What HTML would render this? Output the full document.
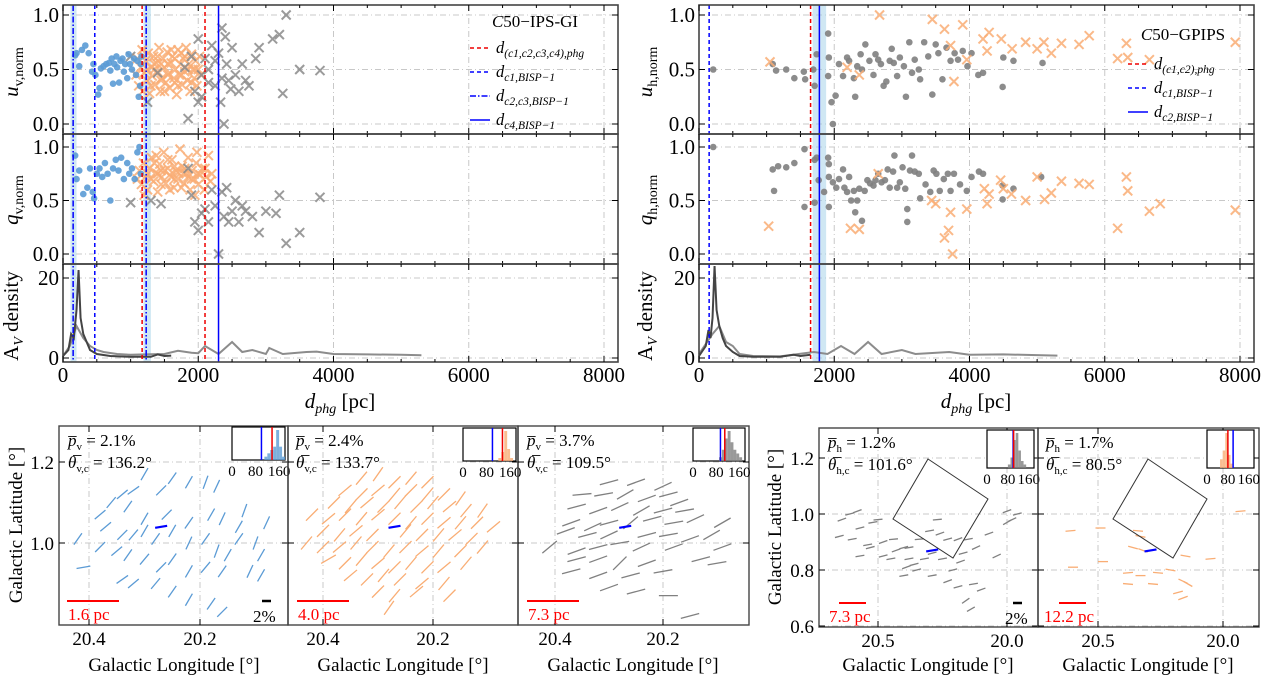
<!DOCTYPE html>
<html><head><meta charset="utf-8"><style>
html,body{margin:0;padding:0;background:#fff;}
svg{display:block;font-family:"Liberation Serif",serif;}
</style></head><body>
<svg id="fig" width="1265" height="677" viewBox="0 0 1265 677" xmlns="http://www.w3.org/2000/svg">
<g id="layer"></g>
<text transform="translate(18,72) rotate(-90)" text-anchor="middle" font-size="21" font-style="italic">u<tspan font-size="14" font-style="normal" dy="5">v,norm</tspan></text>
<text transform="translate(18,200) rotate(-90)" text-anchor="middle" font-size="21" font-style="italic">q<tspan font-size="14" font-style="normal" dy="5">v,norm</tspan></text>
<text transform="translate(18,316) rotate(-90)" text-anchor="middle" font-size="21">A<tspan font-size="14" font-style="italic" dy="5">V</tspan><tspan dy="-5"> density</tspan></text>
<text x="340" y="408" text-anchor="middle" font-size="21"><tspan font-style="italic">d</tspan><tspan font-size="14" font-style="italic" dy="5">phg</tspan><tspan dy="-5"> [pc]</tspan></text>
<text transform="translate(652,72) rotate(-90)" text-anchor="middle" font-size="21" font-style="italic">u<tspan font-size="14" font-style="normal" dy="5">h,norm</tspan></text>
<text transform="translate(652,200) rotate(-90)" text-anchor="middle" font-size="21" font-style="italic">q<tspan font-size="14" font-style="normal" dy="5">h,norm</tspan></text>
<text transform="translate(652,316) rotate(-90)" text-anchor="middle" font-size="21">A<tspan font-size="14" font-style="italic" dy="5">V</tspan><tspan dy="-5"> density</tspan></text>
<text x="976" y="408" text-anchor="middle" font-size="21"><tspan font-style="italic">d</tspan><tspan font-size="14" font-style="italic" dy="5">phg</tspan><tspan dy="-5"> [pc]</tspan></text>
<g font-size="16.5">
<text x="535" y="27" text-anchor="middle" font-size="17"><tspan font-style="italic">C</tspan>50−IPS-GI</text>
<line x1="470" y1="48" x2="490" y2="48" stroke="#e00" stroke-width="1.5" stroke-dasharray="4,3"/>
<text x="496" y="53" font-style="italic">d<tspan font-size="11.5" dy="4">(c1,c2,c3,c4),phg</tspan></text>
<line x1="470" y1="72" x2="490" y2="72" stroke="#00f" stroke-width="1.5" stroke-dasharray="4,3"/>
<text x="496" y="77" font-style="italic">d<tspan font-size="11.5" dy="4">c1,BISP−1</tspan></text>
<line x1="470" y1="96" x2="490" y2="96" stroke="#00f" stroke-width="1.5" stroke-dasharray="6,2,1.5,2"/>
<text x="496" y="101" font-style="italic">d<tspan font-size="11.5" dy="4">c2,c3,BISP−1</tspan></text>
<line x1="470" y1="120" x2="490" y2="120" stroke="#00f" stroke-width="1.5"/>
<text x="496" y="125" font-style="italic">d<tspan font-size="11.5" dy="4">c4,BISP−1</tspan></text>
</g>
<g font-size="16.5">
<text x="1183" y="40" text-anchor="middle" font-size="17"><tspan font-style="italic">C</tspan>50−GPIPS</text>
<line x1="1128" y1="64" x2="1148" y2="64" stroke="#e00" stroke-width="1.5" stroke-dasharray="4,3"/>
<text x="1154" y="69" font-style="italic">d<tspan font-size="11.5" dy="4">(c1,c2),phg</tspan></text>
<line x1="1128" y1="88" x2="1148" y2="88" stroke="#00f" stroke-width="1.5" stroke-dasharray="4,3"/>
<text x="1154" y="93" font-style="italic">d<tspan font-size="11.5" dy="4">c1,BISP−1</tspan></text>
<line x1="1128" y1="112" x2="1148" y2="112" stroke="#00f" stroke-width="1.5"/>
<text x="1154" y="117" font-style="italic">d<tspan font-size="11.5" dy="4">c2,BISP−1</tspan></text>
</g>
<text transform="translate(22,525) rotate(-90)" text-anchor="middle" font-size="19">Galactic Latitude [°]</text>
<text transform="translate(781,527) rotate(-90)" text-anchor="middle" font-size="19">Galactic Latitude [°]</text>
<text x="174" y="671" text-anchor="middle" font-size="19">Galactic Longitude [°]</text>
<text x="403" y="671" text-anchor="middle" font-size="19">Galactic Longitude [°]</text>
<text x="633" y="671" text-anchor="middle" font-size="19">Galactic Longitude [°]</text>
<text x="928" y="671" text-anchor="middle" font-size="19">Galactic Longitude [°]</text>
<text x="1148" y="671" text-anchor="middle" font-size="19">Galactic Longitude [°]</text>
<g font-size="17">
<text x="68" y="446"><tspan font-style="italic">p̅</tspan><tspan font-size="11" dy="4">v</tspan><tspan dy="-4"> = 2.1%</tspan></text>
<text x="68" y="468"><tspan font-style="italic">θ̅</tspan><tspan font-size="11" dy="4">v,c</tspan><tspan dy="-4"> = 136.2°</tspan></text>
<text x="296" y="446"><tspan font-style="italic">p̅</tspan><tspan font-size="11" dy="4">v</tspan><tspan dy="-4"> = 2.4%</tspan></text>
<text x="296" y="468"><tspan font-style="italic">θ̅</tspan><tspan font-size="11" dy="4">v,c</tspan><tspan dy="-4"> = 133.7°</tspan></text>
<text x="527" y="446"><tspan font-style="italic">p̅</tspan><tspan font-size="11" dy="4">v</tspan><tspan dy="-4"> = 3.7%</tspan></text>
<text x="527" y="468"><tspan font-style="italic">θ̅</tspan><tspan font-size="11" dy="4">v,c</tspan><tspan dy="-4"> = 109.5°</tspan></text>
<text x="828" y="448"><tspan font-style="italic">p̅</tspan><tspan font-size="11" dy="4">h</tspan><tspan dy="-4"> = 1.2%</tspan></text>
<text x="828" y="470"><tspan font-style="italic">θ̅</tspan><tspan font-size="11" dy="4">h,c</tspan><tspan dy="-4"> = 101.6°</tspan></text>
<text x="1046" y="448"><tspan font-style="italic">p̅</tspan><tspan font-size="11" dy="4">h</tspan><tspan dy="-4"> = 1.7%</tspan></text>
<text x="1046" y="470"><tspan font-style="italic">θ̅</tspan><tspan font-size="11" dy="4">h,c</tspan><tspan dy="-4"> = 80.5°</tspan></text>
</g>
<g font-size="17" fill="#f00">
<line x1="67" y1="601" x2="119" y2="601" stroke="#f00" stroke-width="2"/>
<text x="68" y="620">1.6 pc</text>
<line x1="297" y1="601" x2="349" y2="601" stroke="#f00" stroke-width="2"/>
<text x="298" y="620">4.0 pc</text>
<line x1="527" y1="601" x2="579" y2="601" stroke="#f00" stroke-width="2"/>
<text x="528" y="620">7.3 pc</text>
<line x1="839" y1="603" x2="866" y2="603" stroke="#f00" stroke-width="2"/>
<text x="829" y="622">7.3 pc</text>
<line x1="1059" y1="603" x2="1086" y2="603" stroke="#f00" stroke-width="2"/>
<text x="1044" y="622">12.2 pc</text>
</g>
<g font-size="17">
<line x1="262" y1="601" x2="271" y2="601" stroke="#000" stroke-width="2.5"/>
<text x="253" y="622">2%</text>
<line x1="1013" y1="603" x2="1022" y2="603" stroke="#000" stroke-width="2.5"/>
<text x="1005" y="624">2%</text>
</g>
<polygon points="928,459 988,499 953,558 893,519" fill="none" stroke="#333" stroke-width="1"/>
<polygon points="1148,459 1207,499 1173,558 1113,519" fill="none" stroke="#333" stroke-width="1"/>
</svg>
<script>
const uvBlue=[[180,.63],[200,.65],[240,.53],[280,.68],[330,.72],[380,.65],[430,.48],[450,.55],[480,.45],[520,.27],[540,.33],[560,.51],[600,.53],[640,.55],[680,.56],[700,.49],[720,.6],[740,.37],[760,.55],[790,.62],[800,.52],[830,.38],[850,.58],[880,.6],[900,.48],[920,.55],[950,.42],[970,.64],[990,.55],[1020,.5],[1050,.6],[1080,.45],[1100,.58],[1120,.25],[1140,.35],[1150,.55],[1160,.62]];
const uvOrange=[[1080,.45],[1100,.6],[1120,.35],[1150,.52],[1170,.68],[1180,.3],[1200,.47],[1220,.58],[1240,.4],[1260,.65],[1280,.28],[1300,.52],[1320,.44],[1340,.62],[1360,.36],[1380,.56],[1400,.48],[1420,.7],[1440,.3],[1460,.42],[1480,.6],[1500,.52],[1520,.38],[1540,.66],[1560,.46],[1580,.33],[1600,.56],[1620,.62],[1640,.42],[1660,.5],[1680,.27],[1700,.68],[1720,.45],[1740,.55],[1760,.36],[1780,.6],[1800,.48],[1820,.7],[1840,.4],[1860,.55],[1880,.3],[1900,.64],[1920,.5],[1940,.42],[1960,.58],[1980,.35],[2000,.5],[2020,.62],[2040,.45],[1250,.5],[1350,.5],[1450,.55],[1550,.55],[1650,.6],[1750,.45],[1850,.5],[1950,.5],[1300,.35],[1500,.3],[1700,.35],[1900,.38],[1400,.62],[1600,.68],[1800,.62],[1200,.62],[1550,.45],[1650,.38],[1450,.4],[1750,.65],[1350,.55]];
const uvGray=[[1000,.62],[1250,.2],[1400,.47],[1800,.52],[1850,.05],[1900,.62],[1950,.3],[2000,.78],[2050,.45],[2100,.6],[2150,.5],[2200,.72],[2250,.35],[2300,.65],[2330,.2],[2350,.88],[2380,0],[2400,.8],[2420,.55],[2450,.4],[2480,.32],[2500,.7],[2550,.45],[2600,.3],[2650,.55],[2700,.4],[2750,.35],[2850,.6],[2900,.7],[3100,.78],[3200,.82],[3250,.28],[3300,1],[3500,.5],[3800,.49],[2000,.2],[2050,.25],[2150,.38],[2250,.58],[2350,.42]];
const qvBlue=[[180,.92],[200,.7],[240,.78],[300,.56],[360,.62],[400,.8],[440,.58],[460,.52],[500,.75],[540,.8],[580,.72],[620,.85],[660,.75],[700,.5],[740,.8],[780,.88],[820,.78],[860,.9],[900,.7],[950,.85],[980,.75],[1020,.8],[1060,.7],[1100,.95],[1130,1],[1150,.75]];
const qvOrange=[[1100,.7],[1130,.78],[1160,.65],[1190,.85],[1220,.72],[1250,.6],[1280,.8],[1310,.9],[1340,.68],[1370,.76],[1400,.58],[1430,.84],[1460,.72],[1490,.95],[1520,.66],[1550,.8],[1580,.74],[1610,.88],[1640,.62],[1670,.78],[1700,.7],[1730,.98],[1760,.82],[1790,.66],[1820,.75],[1850,.9],[1880,.6],[1910,.78],[1940,.7],[1970,.85],[2000,.65],[2030,.74],[2060,.8],[2090,.6],[2120,.72],[2150,.92],[2180,.68],[1300,.7],[1400,.75],[1500,.78],[1600,.72],[1700,.76],[1800,.8],[1900,.7],[2000,.75],[1350,.85],[1450,.65],[1550,.88],[1650,.82],[1750,.62],[1850,.72],[1950,.55],[1250,.75],[1450,.78],[1650,.7],[1200,.55],[1380,.92],[1580,.6],[1780,.75],[2100,.8],[1980,.95],[2200,.75]];
const qvGray=[[1000,.48],[1300,.5],[1450,.47],[1850,.8],[1900,.55],[1950,.3],[2000,.22],[2050,.38],[2100,.42],[2150,.3],[2200,.6],[2250,.45],[2300,0],[2350,.58],[2380,.35],[2420,.62],[2450,.3],[2500,.4],[2550,.5],[2600,.3],[2650,.45],[2700,.4],[2800,.35],[2900,.2],[3000,.4],[3150,.38],[3200,.55],[3300,.1],[3500,.2],[3800,.53]];
const uhGray=[[210,.5],[1090,.55],[1140,.49],[1290,.5],[1410,.42],[1550,.48],[1570,.41],[1690,.5],[1710,.35],[1740,.64],[1910,.83],[1920,.61],[1910,.44],[1960,.2],[1980,0],[2020,.26],[2070,.55],[2130,.44],[2190,.61],[2220,.58],[2290,.42],[2310,.25],[2340,.53],[2390,.64],[2410,.5],[2460,.73],[2520,.58],[2580,.45],[2610,.64],[2650,.59],[2690,.55],[2730,.35],[2770,.39],[2820,.58],[2850,.69],[2880,.56],[2930,.44],[2970,.61],[3030,.53],[3060,.25],[3110,.75],[3150,.47],[3190,.59],[3250,.5],[3270,.41],[3330,.75],[3390,.62],[3450,.27],[3500,.73],[3540,.65],[3600,.41],[3660,.7],[3720,.58],[3780,.65],[3830,.59],[3900,.67],[3970,.53],[4030,.65],[4130,.45],[4200,.47],[4490,.34],[4500,.61],[4650,.58],[5080,.56]];
const uhOrange=[[1050,.57],[2670,1],[3450,.96],[3630,.87],[3720,.72],[3770,.39],[3900,.91],[3960,.59],[4200,.78],[4290,.84],[4260,.67],[4470,.78],[4630,.69],[4830,.75],[5000,.69],[5100,.75],[5210,.65],[5360,.74],[5620,.73],[5770,.81],[6190,.6],[6320,.74],[6340,.61],[6660,.59],[7930,.75],[2190,.52],[2370,.45]];
const qhGray=[[210,1],[1090,.79],[1110,.59],[1170,.82],[1290,.81],[1410,.85],[1560,.44],[1560,.98],[1710,.88],[1710,.48],[1740,.9],[1770,.69],[1850,.58],[1910,.9],[1920,.84],[1920,.72],[1920,.44],[1980,.67],[2030,.62],[2070,.7],[2130,.79],[2150,.62],[2190,.58],[2220,.72],[2250,.5],[2290,.59],[2310,.39],[2340,.5],[2370,.61],[2410,.31],[2450,.59],[2490,.69],[2530,.66],[2580,.64],[2610,.69],[2650,.75],[2700,.67],[2750,.69],[2790,.79],[2820,.62],[2870,.77],[2890,.92],[2930,.62],[2970,.67],[3010,.81],[3050,.61],[3080,.42],[3080,.3],[3120,.78],[3150,.92],[3190,.77],[3250,.75],[3270,.52],[3350,.65],[3420,.58],[3470,.78],[3510,.75],[3560,.59],[3620,.7],[3680,.75],[3720,.59],[3770,.75],[3860,.65],[3960,.59],[4030,.72],[4140,.77],[4200,.75],[4490,.64],[4490,.51],[4650,.61],[5060,.72]];
const qhOrange=[[1030,.26],[2240,.24],[2370,.23],[2650,.75],[3440,.5],[3500,.47],[3630,.15],[3690,.22],[3750,0],[3720,.39],[3960,.42],[4220,.61],[4260,.47],[4290,.56],[4460,.69],[4500,.61],[4620,.56],[4830,.5],[5000,.72],[5110,.51],[5210,.57],[5360,.68],[5620,.66],[5770,.65],[6190,.24],[6320,.72],[6340,.59],[6660,.4],[6820,.47],[7930,.41]];
const avDarkL=[[0,.5],[80,2],[120,6],[160,5],[200,12],[230,22],[260,10],[300,6],[350,4],[400,2],[500,1],[700,.5],[1000,.3],[1300,.3],[1400,.9],[1500,.5],[1600,.6]];
const avGrayL=[[0,.5],[100,3],[200,8],[300,5],[400,3],[500,2],[600,1.5],[800,1],[1000,.8],[1200,.9],[1500,1],[1700,1.8],[1900,1.3],[2000,1.2],[2100,3],[2300,1],[2500,4],[2650,1.5],[2800,2],[3000,1],[3050,2.5],[3250,1],[3600,1.5],[3750,1.6],[4000,1],[4500,.9],[5000,.8],[5300,.7]];
const avDarkR=[[0,.5],[100,3],[140,7],[170,5],[200,10],[230,23],[260,12],[300,8],[350,5],[400,3],[500,1.5],[600,.5],[800,.3],[1200,.3],[1400,.8],[1500,.5],[1650,.8]];
const avGrayR=[[0,1],[200,6],[300,8],[400,4],[500,3],[600,1],[800,.5],[1200,.4],[1700,1.5],[1900,1],[2100,3],[2300,1],[2500,4],[2700,1],[3000,2],[3200,1],[3700,1.5],[4000,.8],[4500,.9],[5300,.6]];
const xTicks=[0,2000,4000,6000,8000];
const xTickLabels=['0','2000','4000','6000','8000'];
const normTicks=[0,0.5,1.0];
const normTickLabels=['0.0','0.5','1.0'];
const avTicks=[0,20];
const vlinesL=[[150,'#00f','6,2,1.5,2'],[470,'#00f','4,3'],[1170,'#e00','4,3'],[1230,'#00f','6,2,1.5,2'],[2100,'#e00','4,3'],[2300,'#00f','']];
const bandsL=[[110,200],[1190,1300]];
const vlinesR=[[150,'#00f','4,3'],[1650,'#e00','4,3'],[1780,'#00f','']];
const bandsR=[[1680,1880]];

const segP1=[[20.30,1.17,60],[20.25,1.16,55],[20.22,1.15,60],[20.19,1.15,70],[20.17,1.14,65],[20.32,1.13,35],[20.34,1.12,40],[20.27,1.13,45],[20.36,1.10,50],[20.38,1.07,40],[20.33,1.09,55],[20.30,1.06,60],[20.26,1.07,45],[20.22,1.05,55],[20.18,1.07,60],[20.16,1.06,65],[20.12,1.08,70],[20.13,1.04,60],[20.37,1.04,40],[20.42,1.01,55],[20.34,1.02,45],[20.32,1.02,50],[20.30,1.03,60],[20.28,1.01,55],[20.25,1.03,60],[20.22,1.00,65],[20.19,1.01,55],[20.17,0.98,70],[20.15,0.97,60],[20.13,1.01,55],[20.10,1.00,70],[20.08,1.05,65],[20.09,0.97,60],[20.38,0.99,45],[20.35,0.98,40],[20.33,0.97,55],[20.30,0.96,50],[20.27,0.94,45],[20.25,0.96,55],[20.22,0.93,60],[20.19,0.94,50],[20.16,0.93,55],[20.09,0.92,60],[20.41,0.94,10],[20.34,0.91,35],[20.32,0.90,40],[20.28,0.90,50],[20.25,0.88,55],[20.22,0.86,60],[20.18,0.85,55],[20.16,0.83,45],[20.11,0.93,65]];
const segP2=[[20.33,1.16,50],[20.30,1.17,55],[20.27,1.15,45],[20.24,1.16,50],[20.21,1.15,45],[20.36,1.13,40],[20.33,1.12,45],[20.30,1.13,40],[20.27,1.12,50],[20.24,1.13,45],[20.21,1.12,50],[20.18,1.12,45],[20.15,1.11,55],[20.38,1.10,45],[20.35,1.09,50],[20.32,1.10,40],[20.29,1.09,45],[20.26,1.10,50],[20.23,1.09,45],[20.20,1.10,50],[20.17,1.09,40],[20.14,1.08,50],[20.11,1.08,55],[20.42,1.07,45],[20.39,1.06,40],[20.36,1.07,45],[20.33,1.06,50],[20.30,1.07,40],[20.27,1.06,45],[20.24,1.05,50],[20.21,1.06,45],[20.18,1.05,40],[20.15,1.05,50],[20.12,1.05,45],[20.09,1.04,40],[20.40,1.03,45],[20.37,1.02,50],[20.34,1.03,40],[20.31,1.02,45],[20.25,1.03,50],[20.22,1.02,45],[20.19,1.02,50],[20.16,1.02,40],[20.13,1.01,45],[20.43,1.00,50],[20.40,0.99,45],[20.37,0.99,40],[20.34,1.00,50],[20.31,0.99,45],[20.28,0.98,50],[20.25,0.99,45],[20.22,0.98,40],[20.19,0.98,50],[20.15,0.98,45],[20.11,0.99,50],[20.39,0.96,30],[20.36,0.95,45],[20.33,0.96,50],[20.30,0.95,40],[20.27,0.94,45],[20.24,0.95,50],[20.21,0.94,45],[20.18,0.94,40],[20.14,0.95,50],[20.35,0.92,40],[20.32,0.91,45],[20.29,0.92,50],[20.26,0.91,45],[20.22,0.90,40],[20.18,0.90,50],[20.30,0.88,45],[20.27,0.87,50],[20.23,0.88,40],[20.17,0.87,45],[20.28,0.84,55]];
const segP3=[[20.30,1.15,15],[20.25,1.15,20],[20.20,1.14,25],[20.35,1.12,5],[20.31,1.12,10],[20.27,1.12,30],[20.23,1.11,20],[20.19,1.12,15],[20.17,1.10,20],[20.36,1.09,15],[20.32,1.08,20],[20.28,1.09,25],[20.24,1.08,30],[20.20,1.08,15],[20.16,1.08,10],[20.37,1.05,20],[20.33,1.04,25],[20.30,1.05,15],[20.26,1.05,40],[20.22,1.06,15],[20.18,1.05,10],[20.14,1.06,25],[20.09,1.05,30],[20.38,1.03,20],[20.34,1.02,15],[20.30,1.02,25],[20.23,1.02,15],[20.19,1.02,10],[20.15,1.01,20],[20.11,1.02,30],[20.41,0.99,40],[20.36,0.98,20],[20.32,0.99,15],[20.28,1.00,10],[20.24,0.99,25],[20.18,0.99,20],[20.09,0.99,20],[20.36,0.96,15],[20.32,0.96,20],[20.28,0.95,45],[20.23,0.95,20],[20.13,0.96,15],[20.10,0.95,10],[20.37,0.93,15],[20.32,0.92,20],[20.26,0.92,15],[20.20,0.93,10],[20.30,0.89,20],[20.25,0.88,15],[20.19,0.87,0],[20.15,0.82,15]];
const segRA=[[20.64,0.98,20],[20.61,1.00,15],[20.58,1.01,20],[20.65,0.92,15],[20.60,0.91,10],[20.57,0.95,15],[20.52,0.97,10],[20.50,0.98,5],[20.54,0.89,10],[20.53,0.88,15],[20.48,0.90,20],[20.57,0.85,10],[20.48,0.85,15],[20.45,0.84,10],[20.43,0.87,20],[20.40,0.88,15],[20.38,0.88,10],[20.39,0.81,20],[20.36,0.82,15],[20.32,0.84,10],[20.34,0.91,5],[20.30,0.94,10],[20.27,0.98,5],[20.26,0.93,20],[20.23,0.91,15],[20.19,0.91,20],[20.17,0.86,15],[20.15,0.91,10],[20.12,0.88,25],[20.07,0.93,20],[20.04,0.85,25],[20.00,1.01,20],[19.98,0.98,25],[19.96,1.00,15],[20.00,0.97,30],[20.40,0.78,10],[20.35,0.80,15],[20.29,0.78,10],[20.23,0.76,20],[20.19,0.74,15],[20.13,0.75,10],[20.10,0.73,20],[20.29,0.86,15],[20.25,0.84,10],[20.18,0.83,20],[20.16,0.69,35],[20.14,0.66,30],[20.21,0.80,15],[20.38,0.84,10],[20.44,0.91,5]];
const segRB=[[20.61,0.94,5],[20.49,0.95,0],[20.34,0.94,-5],[20.33,0.92,-10],[20.36,0.88,-15],[20.32,0.87,-20],[20.15,0.85,-10],[20.05,0.84,5],[20.48,0.83,0],[20.38,0.79,5],[20.33,0.78,0],[20.26,0.79,-5],[20.21,0.80,-10],[20.16,0.76,-25],[20.14,0.75,-30],[20.18,0.72,15],[20.16,0.70,20],[20.28,0.75,-5],[19.93,1.01,5],[20.60,0.81,0],[20.38,0.75,-5]];
const histP1=[0,0,0,0,0,0,0,0,0,0,0,1,2,3,4,9,4,1];
const histP2=[0,0,0,0,0,0,0,0,0,0,0,0,1,3,10,4,1,0];
const histP3=[0,0,0,0,0,0,0,0,0,1,3,6,8,5,3,2,1,0];
const histRA=[0,0,0,0,0,0,0,0,1,3,8,10,5,2,1,0,0,0];
const histRB=[0,0,0,0,0,2,4,8,3,1,0,0,0,0,0,0,0,0];

const NS='http://www.w3.org/2000/svg';
const root=document.getElementById('layer');
function mk(tag,name,attrs,parent){
  const e=document.createElementNS(NS,tag);
  
  
  for(const k in attrs) e.setAttribute(k,attrs[k]);
  (parent||root).appendChild(e);
  return e;
}
function txt(name,x,y,s,size,anchor,parent,fill){
  const t=mk('text',name,{x:x,y:y,'font-size':size,'text-anchor':anchor||'middle',fill:fill||'#000'},parent);
  t.textContent=s;return t;
}
const GRID='#c8c8c8';

function topPanel(side,L,R,vlines,bands,sets,avD,avG){
  const xs=d=>L+d*541/8000;
  const rows=[{t:5,b:134,y:v=>124-v*109},{t:134,b:264,y:v=>254-v*107},{t:264,b:362,y:v=>358-v*4}];
  const g=mk('g','top-panel-'+side,{});
  rows.forEach((r,ri)=>{
    const tk=ri<2?normTicks:avTicks;
    tk.forEach(v=>{mk('line','grid-h',{x1:L,x2:R,y1:r.y(v),y2:r.y(v),stroke:GRID,'stroke-dasharray':'6,3,1,3','stroke-width':1},g);});
    xTicks.forEach(d=>{mk('line','grid-v',{x1:xs(d),x2:xs(d),y1:r.t,y2:r.b,stroke:GRID,'stroke-dasharray':'6,3,1,3','stroke-width':1},g);});
  });
  bands.forEach(b=>{mk('rect','distance-uncertainty-band',{x:xs(b[0]),y:5,width:xs(b[1])-xs(b[0]),height:357,fill:'#a8d4ea',opacity:.55},g);});
  [[avG,'#8c8c8c','av-density-curve-light'],[avD,'#444','av-density-curve-dark']].forEach(c=>{
    mk('polyline',c[2],{points:c[0].map(p=>xs(p[0])+','+rows[2].y(p[1])).join(' '),fill:'none',stroke:c[1],'stroke-width':2},g);
  });
  sets.forEach(s=>{
    const r=rows[s.row];
    s.data.forEach(p=>{
      const x=xs(p[0]),y=r.y(p[1]);
      if(s.m==='o'){mk('circle',s.name,{cx:x,cy:y,r:3.3,fill:s.c,opacity:.9},g);}
      else{mk('path',s.name,{d:`M${x-4.5},${y-4.5}L${x+4.5},${y+4.5}M${x-4.5},${y+4.5}L${x+4.5},${y-4.5}`,stroke:s.c,'stroke-width':2,opacity:.85,fill:'none'},g);}
    });
  });
  vlines.forEach(v=>{mk('line','distance-line',{x1:xs(v[0]),x2:xs(v[0]),y1:5,y2:362,stroke:v[1],'stroke-width':1.5,'stroke-dasharray':v[2]},g);});
  rows.forEach((r,ri)=>{
    mk('rect','axes-frame',{x:L,y:r.t,width:R-L,height:r.b-r.t,fill:'none',stroke:'#444','stroke-width':1.6},g);
    const tk=ri<2?normTicks:avTicks;
    const lb=ri<2?normTickLabels:avTicks.map(String);
    tk.forEach((v,i)=>{
      mk('line','y-tick',{x1:L,x2:L+6,y1:r.y(v),y2:r.y(v),stroke:'#000'},g);
      mk('line','y-tick',{x1:R,x2:R-6,y1:r.y(v),y2:r.y(v),stroke:'#000'},g);
      txt('y-tick-label',L-4,r.y(v)+7,lb[i],21,'end',g);
    });
    for(let d=0;d<=8000;d+=500){const maj=d%2000===0;
      mk('line','x-tick',{x1:xs(d),x2:xs(d),y1:r.b,y2:r.b-(maj?6:3),stroke:'#000'},g);
      mk('line','x-tick',{x1:xs(d),x2:xs(d),y1:r.t,y2:r.t+(maj?6:3),stroke:'#000'},g);}
  });
  xTicks.forEach((d,i)=>txt('x-tick-label',xs(d),382,xTickLabels[i],21,'middle',g));
}
topPanel('left',63,618,vlinesL,bandsL,[
 {row:0,data:uvOrange,m:'x',c:'#f9ad74',name:'point-u-c23'},{row:0,data:uvGray,m:'x',c:'#8a8a8a',name:'point-u-c4'},{row:0,data:uvBlue,m:'o',c:'#5b9bd5',name:'point-u-c1'},
 {row:1,data:qvOrange,m:'x',c:'#f9ad74',name:'point-q-c23'},{row:1,data:qvGray,m:'x',c:'#8a8a8a',name:'point-q-c4'},{row:1,data:qvBlue,m:'o',c:'#5b9bd5',name:'point-q-c1'}],avDarkL,avGrayL);
topPanel('right',699,1254,vlinesR,bandsR,[
 {row:0,data:uhGray,m:'o',c:'#7f7f7f',name:'point-u-c1'},{row:0,data:uhOrange,m:'x',c:'#f9ad74',name:'point-u-c2'},
 {row:1,data:qhGray,m:'o',c:'#7f7f7f',name:'point-q-c1'},{row:1,data:qhOrange,m:'x',c:'#f9ad74',name:'point-q-c2'}],avDarkR,avGrayR);

function mapPanel(cfg){
  const g=mk('g','map-panel-'+cfg.id,{});
  const xs=l=>cfg.x0+(cfg.lref-l)*cfg.kx;
  const ys=b=>cfg.y0-(b-1)*cfg.ky;
  cfg.lt.forEach(l=>mk('line','grid-v',{x1:xs(l),x2:xs(l),y1:cfg.T,y2:cfg.B,stroke:GRID,'stroke-dasharray':'6,3,1,3'},g));
  cfg.bt.forEach(b=>mk('line','grid-h',{x1:cfg.L,x2:cfg.R,y1:ys(b),y2:ys(b),stroke:GRID,'stroke-dasharray':'6,3,1,3'},g));
  cfg.seg.forEach(s=>{
    const x=xs(s[0]),y=ys(s[1]),a=s[2]*Math.PI/180,h=cfg.len/2;
    mk('line','polarization-vector',{x1:x-h*Math.cos(a),y1:y+h*Math.sin(a),x2:x+h*Math.cos(a),y2:y-h*Math.sin(a),stroke:cfg.c,'stroke-width':1.3},g);
  });
  const cx=xs(cfg.center[0]),cy=ys(cfg.center[1]);
  mk('line','mean-polarization-vector',{x1:cx-6,y1:cy+1,x2:cx+6,y2:cy-1,stroke:'#00f','stroke-width':2.2},g);
  mk('rect','axes-frame',{x:cfg.L,y:cfg.T,width:cfg.R-cfg.L,height:cfg.B-cfg.T,fill:'none',stroke:'#444','stroke-width':1.4},g);
  cfg.lt.forEach((l,i)=>{mk('line','x-tick',{x1:xs(l),x2:xs(l),y1:cfg.B,y2:cfg.B-6,stroke:'#000'},g);
    mk('line','x-tick',{x1:xs(l),x2:xs(l),y1:cfg.T,y2:cfg.T+6,stroke:'#000'},g);
    txt('x-tick-label',xs(l),cfg.B+20,cfg.ltl[i],19,'middle',g);});
  cfg.bt.forEach((b,i)=>{mk('line','y-tick',{x1:cfg.L,x2:cfg.L+6,y1:ys(b),y2:ys(b),stroke:'#000'},g);
    mk('line','y-tick',{x1:cfg.R,x2:cfg.R-6,y1:ys(b),y2:ys(b),stroke:'#000'},g);
    if(cfg.showY) txt('y-tick-label',cfg.L-5,ys(b)+7,cfg.btl[i],19,'end',g);});
  const I=cfg.inset, hx=v=>I.x+v/180*I.w, mx=Math.max(...cfg.hist);
  mk('rect','inset-frame',{x:I.x,y:I.y,width:I.w,height:I.h,fill:'#fff',stroke:'#000','stroke-width':1.2},g);
  cfg.hist.forEach((h,i)=>{ if(h>0) mk('rect','inset-hist-bar',{x:hx(i*10),y:I.y+I.h-h/mx*(I.h-3),width:I.w/18,height:h/mx*(I.h-3),fill:cfg.c,opacity:.8},g);});
  mk('line','inset-mean-line',{x1:hx(cfg.blue),x2:hx(cfg.blue),y1:I.y,y2:I.y+I.h,stroke:'#00f','stroke-width':1.5},g);
  mk('line','inset-mean-line',{x1:hx(cfg.red),x2:hx(cfg.red),y1:I.y,y2:I.y+I.h,stroke:'#e00','stroke-width':1.5},g);
  txt('inset-tick-label',hx(0),I.y+I.h+16,'0',15,'middle',g);
  txt('inset-tick-label',hx(80),I.y+I.h+16,'80',15,'middle',g);
  txt('inset-tick-label',hx(160),I.y+I.h+16,'160',15,'middle',g);
}
const lonTicksL=[20.4,20.2], lonTickLabelsL=['20.4','20.2'];
const latTicksL=[1.2,1.0], latTickLabelsL=['1.2','1.0'];
const lonTicksR=[20.5,20.0], lonTickLabelsR=['20.5','20.0'];
const latTicksR=[1.2,1.0,0.8,0.6], latTickLabelsR=['1.2','1.0','0.8','0.6'];
mapPanel({id:'c1',L:59,R:288,T:426,B:625,x0:89,lref:20.4,kx:555,y0:543,ky:405,lt:lonTicksL,ltl:lonTickLabelsL,bt:latTicksL,btl:latTickLabelsL,showY:true,seg:segP1,c:'#5b9bd5',len:14,center:[20.27,1.04],inset:{x:232,y:427,w:53,h:33},hist:histP1,blue:100,red:136});
mapPanel({id:'c23',L:288,R:518,T:426,B:625,x0:323,lref:20.4,kx:550,y0:543,ky:405,lt:lonTicksL,ltl:lonTickLabelsL,bt:latTicksL,btl:latTickLabelsL,showY:false,seg:segP2,c:'#f9ad74',len:17,center:[20.27,1.04],inset:{x:463,y:428,w:53,h:33},hist:histP2,blue:100,red:134});
mapPanel({id:'c4',L:518,R:749,T:426,B:625,x0:555,lref:20.4,kx:540,y0:543,ky:405,lt:lonTicksL,ltl:lonTickLabelsL,bt:latTicksL,btl:latTickLabelsL,showY:false,seg:segP3,c:'#808080',len:19,center:[20.27,1.04],inset:{x:693,y:428,w:52,h:33},hist:histP3,blue:95,red:110});
mapPanel({id:'gpips-c1',L:819,R:1038,T:428,B:627,x0:878,lref:20.5,kx:258,y0:514,ky:280,lt:lonTicksR,ltl:lonTickLabelsR,bt:latTicksR,btl:latTickLabelsR,showY:true,seg:segRA,c:'#808080',len:9,center:[20.29,0.87],inset:{x:987,y:430,w:47,h:38},hist:histRA,blue:100,red:102});
mapPanel({id:'gpips-c2',L:1038,R:1259,T:428,B:627,x0:1098,lref:20.5,kx:250,y0:514,ky:280,lt:lonTicksR,ltl:lonTickLabelsR,bt:latTicksR,btl:latTickLabelsR,showY:false,seg:segRB,c:'#f9ad74',len:10,center:[20.29,0.87],inset:{x:1207,y:430,w:47,h:38},hist:histRB,blue:100,red:80});
</script>
</body></html>
